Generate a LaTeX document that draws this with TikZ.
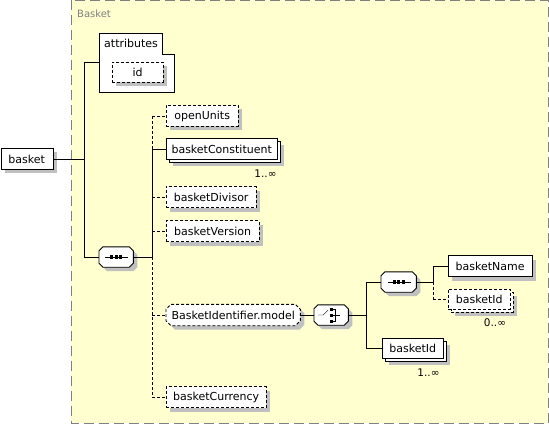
\documentclass[tikz,border=0pt]{standalone}
\usepackage{fontspec}
\setmainfont{DejaVu Sans}
\usetikzlibrary{shadows}
\definecolor{bgyellow}{RGB}{255,255,208}
\definecolor{shgray}{RGB}{192,192,192}
\definecolor{grpgray}{RGB}{128,128,128}
\pgfdeclarelayer{bg}
\pgfdeclarelayer{shapes}
\pgfsetlayers{bg,shapes,main}
% octagonal outline around a named node: #1 = options, #2 = node name, #3 = chamfer
\newcommand{\octapath}[3]{%
  \path[#1] ([xshift=#3]#2.north west) -- ([xshift=-#3]#2.north east) -- ([yshift=-#3]#2.north east)
    -- ([yshift=#3]#2.south east) -- ([xshift=-#3]#2.south east) -- ([xshift=#3]#2.south west)
    -- ([yshift=#3]#2.south west) -- ([yshift=-#3]#2.north west) -- cycle;}
\newcommand{\octabox}[3][]{%
  \begin{pgfonlayer}{shapes}
    \begin{scope}[transform canvas={xshift=4pt,yshift=-4pt}]
      \octapath{fill=shgray}{#2}{#3}
    \end{scope}
    \octapath{draw=black,line width=0.9pt,fill=white,#1}{#2}{#3}
  \end{pgfonlayer}}
\begin{document}
\begin{tikzpicture}[x=1pt,y=-1pt,line width=0.9pt,
  every node/.style={font=\fontsize{11}{13}\selectfont},
  dsh/.style={dash pattern=on 3pt off 2pt},
  box/.style={draw,fill=white,anchor=west,minimum height=21pt,inner sep=0pt},
  shad/.style={drop shadow={shadow xshift=4pt,shadow yshift=-4pt,fill=shgray,opacity=1}},
  el/.style={box,shad},
  mult/.style={box,drop shadow={shadow xshift=7pt,shadow yshift=-7pt,fill=shgray,opacity=1},
    copy shadow={shadow xshift=3pt,shadow yshift=-3pt,draw=black,fill=white}},
  comp/.style={anchor=west,minimum width=34pt,minimum height=20pt,inner sep=0pt},
  occ/.style={font=\fontsize{10.5}{12}\selectfont,inner sep=0pt},
  seqicon/.pic={
    \draw (-11,0) -- (12,0);
    \foreach \u in {-4.5,0,4.5} \fill (\u-1.7,-1.7) rectangle (\u+1.7,1.7);
  },
  choiceicon/.pic={
    \draw (-13,0) -- (-8,0) -- (-3,-5);
    \foreach \v in {-6,0,6} \fill (-1.5,\v-1.5) rectangle (1.5,\v+1.5);
    \draw (0,-6) -- (4,-6) -- (4,6) -- (0,6);
    \draw (0,0) -- (9,0);
  }
]
\useasboundingbox (0,0) rectangle (549,425);
% group background
\begin{pgfonlayer}{bg}
\fill[bgyellow] (71,0) rectangle (548,423);
\draw[grpgray,line width=1pt,dash pattern=on 10pt off 5pt] (71,0.5) rectangle (548,423);
\end{pgfonlayer}
\node[anchor=west,text=grpgray,font=\fontsize{10}{12}\selectfont,inner sep=0pt] (glabel) at (77,14) {Basket};

% root element
\node[el,minimum width=52pt] (basket) at (0.5,159) {basket};

% attributes
\draw[fill=white] (99,33) -- (162,33) -- (162,54) -- (174,54) -- (174,92) -- (99,92) -- cycle;
\node[anchor=west,inner sep=0pt] (attrlabel) at (104,43) {attributes};
\coordinate (attrw) at (99,62);
\node[el,dsh,minimum width=51pt,minimum height=20pt] (id) at (112,72) {id};

% sequence 1
\node[comp] (s1) at (99,257) {};
\octabox{s1}{4pt}
\pic at (s1.center) {seqicon};

% children of sequence 1
\node[el,dsh,minimum width=72pt] (openUnits) at (166,116) {openUnits};
\node[mult,minimum width=111pt] (bc) at (166,149) {basketConstituent};
\node[occ] (occ1) at (265.5,174) {1..∞};
\node[el,dsh,minimum width=90pt] (bdiv) at (166,197) {basketDivisor};
\node[el,dsh,minimum width=93pt] (bver) at (166,231) {basketVersion};
\node[comp,minimum width=134pt,minimum height=21pt] (bim) at (166,315) {BasketIdentifier.model};
\octabox[dsh]{bim}{5pt}
\node[el,dsh,minimum width=100pt] (bcur) at (166,397) {basketCurrency};

% choice
\node[comp] (ch) at (314,315) {};
\octabox{ch}{4pt}
\pic at (ch.center) {choiceicon};

% sequence 2
\node[comp,minimum width=35pt] (s2) at (381,282) {};
\octabox{s2}{4pt}
\pic at (s2.center) {seqicon};
\node[el,minimum width=84pt] (bname) at (448,266) {basketName};
\node[mult,dsh,minimum width=62pt,minimum height=20pt] (bid1) at (448,299) {basketId};
\node[occ] (occ2) at (495,323) {0..∞};
\node[mult,minimum width=61pt,minimum height=20pt] (bid2) at (382,348) {basketId};
\node[occ] (occ3) at (428.5,373) {1..∞};

% connector joints
\coordinate (j0) at (84,159);
\coordinate (j0t) at (84,62);
\coordinate (j0b) at (84,257);
\coordinate (j1) at (152,257);
\coordinate (j1a) at (152,116);
\coordinate (j1b) at (152,149);
\coordinate (j1e) at (152,397);
\coordinate (j2) at (366,315);
\coordinate (j2a) at (366,282);
\coordinate (j2b) at (366,348);
\coordinate (j3) at (433,282);
\coordinate (j3a) at (433,266);
\coordinate (j3b) at (433,299);

% connectors
\draw (basket.east) -- (j0);
\draw (j0t) -- (j0b);
\draw (j0t) -- (attrw);
\draw (j0b) -- (s1.west);
\draw (s1.east) -- (j1);
\draw[dsh] (j1a) -- (j1b);
\draw (j1b) -- (j1);
\draw[dsh] (j1) -- (j1e);
\draw[dsh] (j1a) -- (openUnits.west);
\draw (j1b) -- (bc.west);
\draw[dsh] (bdiv.west -| j1) -- (bdiv.west);
\draw[dsh] (bver.west -| j1) -- (bver.west);
\draw[dsh] (bim.west -| j1) -- (bim.west);
\draw[dsh] (j1e) -- (bcur.west);
\draw (bim.east) -- (ch.west);
\draw (ch.east) -- (j2);
\draw (j2a) -- (j2b);
\draw (j2a) -- (s2.west);
\draw (j2b) -- (bid2.west);
\draw (s2.east) -- (j3);
\draw (j3a) -- (j3);
\draw[dsh] (j3) -- (j3b);
\draw (j3a) -- (bname.west);
\draw[dsh] (j3b) -- (bid1.west);
\end{tikzpicture}
\end{document}
